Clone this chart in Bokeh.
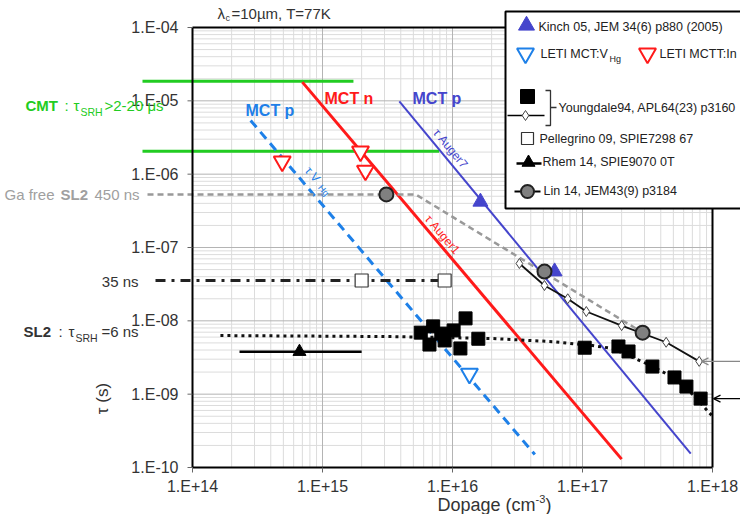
from bokeh.plotting import figure
from bokeh.models import Label, Arrow, OpenHead
from bokeh.core.properties import value
from bokeh.embed import file_html
from bokeh.resources import INLINE
import math

# ---------------- data ----------------
x_ticks = [1e14, 1e15, 1e16, 1e17, 1e18]
y_ticks = [1e-10, 1e-9, 1e-8, 1e-7, 1e-6, 1e-5, 1e-4]

mct_n_dop = [7.0e14, 2.0e17]
mct_n_tau = [1.8e-5, 1.3e-10]
mct_p_auger7_dop = [3.9e15, 6.8e17]
mct_p_auger7_tau = [9.8e-6, 1.55e-10]
mct_p_vhg_dop = [2.8e14, 4.3e16]
mct_p_vhg_tau = [5.4e-6, 1.5e-10]

cmt_srh_tau = [1.85e-5, 2.05e-6]
cmt_srh_dop_end = [1.73e15, 7.9e15]

ga_free_dop = [1.0e14, 5.2e15, 2.9e17]
ga_free_tau = [5.3e-7, 5.3e-7, 6.9e-9]

pellegrino_dop = [2.0e15, 8.7e15]
pellegrino_tau = [3.55e-8, 3.55e-8]
pellegrino_line_end = 9.2e15

rhem_dop = [6.65e14]
rhem_tau = [3.8e-9]
rhem_line_dop = [2.3e14, 2.0e15]

sl2_model_dop = [1.64e14, 3.45e15, 2.03e16, 5.9e16, 1.19e17, 1.7e17, 2.4e17,
                 3.45e17, 5.1e17, 7.0e17, 1.0e18]
sl2_model_tau = [6.3e-9, 6.1e-9, 5.74e-9, 5.2e-9, 4.6e-9, 4.2e-9, 3.2e-9,
                 2.4e-9, 1.65e-9, 1.0e-9, 5.0e-10]

youngdale_sq_dop = [5.7e15, 7.1e15, 6.65e15, 8.2e15, 8.7e15, 1.02e16, 1.26e16,
                    1.15e16, 1.58e16, 1.04e17, 1.89e17, 2.26e17, 3.45e17,
                    5.1e17, 6.3e17, 8.1e17]
youngdale_sq_tau = [6.9e-9, 8.4e-9, 4.75e-9, 6.7e-9, 5.4e-9, 7.4e-9, 1.08e-8,
                    4.2e-9, 5.7e-9, 4.3e-9, 4.47e-9, 3.82e-9, 2.38e-9,
                    1.69e-9, 1.27e-9, 8.7e-10]
youngdale_dia_dop = [3.27e16, 5.1e16, 7.7e16, 1.07e17, 2.0e17, 4.4e17, 7.9e17]
youngdale_dia_tau = [6.05e-8, 3.03e-8, 2.0e-8, 1.34e-8, 8.6e-9, 5.1e-9, 2.8e-9]

kinch_dop = [1.64e16, 6.1e16]
kinch_tau = [4.2e-7, 4.7e-8]
leti_vhg_dop = [1.35e16]
leti_vhg_tau = [1.9e-9]
leti_in_dop = [4.9e14, 1.96e15, 2.14e15]
leti_in_tau = [1.49e-6, 2.04e-6, 1.12e-6]
lin_dop = [3.1e15, 5.1e16, 2.9e17]
lin_tau = [5.3e-7, 4.7e-8, 6.9e-9]

# ---------------- styling ----------------
FONT = "Liberation Sans"
GREEN = "#22cc22"
RED = "#ff1a1a"
VIOLET = "#4545cc"
DODGER = "#1e80e8"
GRAY = "#999999"
TXT = "#333333"

SHIFT_X = 8   # the whole drawing is moved 8px left so it fits the window


def dx(px):
    """reference-image pixel x -> data x"""
    return 10 ** (14 + (px - 200) / 130.0)


def dy(py):
    """reference-image pixel y -> data y (drawn 2px higher on the canvas)"""
    return 10 ** (-4 - (py - 29) / (440 / 6.0))


def tick_label(v):
    e = round(math.log10(v))
    return "1.E%+03d" % e


W, H = 740, 514
p = figure(width=W, height=H, x_axis_type="log", y_axis_type="log",
           x_range=(dx(SHIFT_X), dx(W + SHIFT_X)), y_range=(dy(H + 2), dy(2)),
           x_axis_location=None, y_axis_location=None,
           min_border=0, output_backend="svg", toolbar_location=None)
p.title.visible = False
p.outline_line_color = None
p.xgrid.grid_line_color = None
p.ygrid.grid_line_color = None
p.background_fill_color = "white"
p.border_fill_color = "white"

X0, X1 = x_ticks[0], x_ticks[-1]
Y0, Y1 = y_ticks[0], y_ticks[-1]

# ---------------- grid (from the tick arrays) ----------------
minor_x = [k * 10.0 ** e for e in range(14, 18) for k in range(2, 10)]
minor_y = [k * 10.0 ** e for e in range(-10, -4) for k in range(2, 10)]
p.segment(x0=minor_x, x1=minor_x, y0=[Y0] * len(minor_x), y1=[Y1] * len(minor_x),
          line_color="#dcdcdc", line_width=1)
p.segment(x0=[X0] * len(minor_y), x1=[X1] * len(minor_y), y0=minor_y, y1=minor_y,
          line_color="#dcdcdc", line_width=1)
mx = x_ticks[1:-1]
my = y_ticks[1:-1]
p.segment(x0=mx, x1=mx, y0=[Y0] * len(mx), y1=[Y1] * len(mx),
          line_color="#b4b4b4", line_width=1)
p.segment(x0=[X0] * len(my), x1=[X1] * len(my), y0=my, y1=my,
          line_color="#b4b4b4", line_width=1)

# legend box (white, covers the grid)
p.quad(left=[dx(513)], right=[dx(820)], top=[dy(13)], bottom=[dy(210)],
       fill_color="white", line_color="black", line_width=2)

# ---------------- data glyphs ----------------
for tau, xend in zip(cmt_srh_tau, cmt_srh_dop_end):
    p.line([dx(150), xend], [tau, tau], line_color=GREEN, line_width=3)

p.line(mct_p_vhg_dop, mct_p_vhg_tau, line_color=DODGER, line_width=3, line_dash="9 6")
p.line(mct_n_dop, mct_n_tau, line_color=RED, line_width=3)
p.line(mct_p_auger7_dop, mct_p_auger7_tau, line_color=VIOLET, line_width=2)

p.line([dx(155)] + ga_free_dop, [ga_free_tau[0]] + ga_free_tau, line_color=GRAY,
       line_width=2.5, line_dash="6 4")

p.line([dx(163), pellegrino_line_end], [pellegrino_tau[0]] * 2, line_color="#222222",
       line_width=3, line_dash="10 6 3 6")

p.line(sl2_model_dop, sl2_model_tau, line_color="#111111", line_width=3, line_dash="3 4")
p.line(rhem_line_dop, [rhem_tau[0]] * 2, line_color="black", line_width=2.5)

p.line(youngdale_dia_dop, youngdale_dia_tau, line_color="#111111", line_width=1.8)
p.scatter(youngdale_dia_dop, youngdale_dia_tau, marker="diamond", size=10,
          fill_color="white", line_color="#444444", line_width=1)

p.scatter(pellegrino_dop, pellegrino_tau, marker="square", size=13,
          fill_color="white", line_color="#333333", line_width=1.2)
p.scatter(youngdale_sq_dop, youngdale_sq_tau, marker="square", size=13,
          fill_color="black", line_color="black")
p.scatter(rhem_dop, rhem_tau, marker="triangle", size=13,
          fill_color="black", line_color="black")
p.scatter(leti_in_dop, leti_in_tau, marker="inverted_triangle", size=17,
          fill_color="white", line_color=RED, line_width=2)
p.scatter(leti_vhg_dop, leti_vhg_tau, marker="inverted_triangle", size=17,
          fill_color="white", line_color=DODGER, line_width=2)
p.scatter(kinch_dop, kinch_tau, marker="triangle", size=15,
          fill_color=VIOLET, line_color=VIOLET)
p.scatter(lin_dop, lin_tau, marker="circle", size=14,
          fill_color="#808080", line_color="#222222", line_width=2)

# arrows on the right
p.add_layout(Arrow(x_start=dx(752), y_start=youngdale_dia_tau[-1], x_end=dx(709),
                   y_end=youngdale_dia_tau[-1], line_color="#888888", line_width=1.2,
                   end=OpenHead(size=7, line_color="#888888", line_width=1.2)))
p.add_layout(Arrow(x_start=dx(756), y_start=youngdale_sq_tau[-1], x_end=dx(721),
                   y_end=youngdale_sq_tau[-1], line_color="black", line_width=1.2,
                   end=OpenHead(size=7, line_color="black", line_width=1.2)))

# ---------------- frame and axes (ticks from the arrays) ----------------
p.line([X0, X0], [Y0, Y1], line_color="black", line_width=2)          # left
p.line([X0, X1], [Y0, Y0], line_color="black", line_width=2)          # bottom
p.line([X0, dx(513)], [Y1, Y1], line_color="black", line_width=2)     # top
p.line([X1, X1], [Y0, dy(210)], line_color="black", line_width=2)     # right

p.segment(x0=x_ticks, x1=x_ticks, y0=[Y0] * len(x_ticks), y1=[dy(474)] * len(x_ticks),
          line_color="#666666", line_width=1)
p.segment(x0=[dx(195)] * len(y_ticks), x1=[X0] * len(y_ticks), y0=y_ticks, y1=y_ticks,
          line_color="#666666", line_width=1)
p.text(x=x_ticks, y=[dy(488)] * len(x_ticks), text=[tick_label(v) for v in x_ticks],
       text_font=value(FONT), text_font_size=value("16px"), text_color=TXT,
       text_align=value("center"), text_baseline=value("middle"))
p.text(x=[dx(186)] * len(y_ticks), y=y_ticks, text=[tick_label(v) for v in y_ticks],
       text_font=value(FONT), text_font_size=value("16px"), text_color=TXT,
       text_align=value("right"), text_baseline=value("middle"))


def lab(text, px, py, size, color, bold=False, align="left", angle=0.0, font=FONT):
    p.add_layout(Label(x=dx(px), y=dy(py), text=text, text_font=font,
                       text_font_size=f"{size}px", text_color=color,
                       text_font_style="bold" if bold else "normal",
                       text_align=align, text_baseline="middle", angle=angle))


# ---------------- texts ----------------
lab("λ", 225, 15, 15, TXT)
lab("c", 233, 19, 9, TXT)
lab("=10µm, T=77K", 239, 15, 15, TXT)

lab("CMT", 33, 107, 15, GREEN, bold=True)
lab(":", 72, 107, 15, GREEN)
lab("τ", 81, 107, 15, GREEN)
lab("SRH", 88, 113, 10.5, GREEN)
lab(">2-20 μs", 112, 107, 15, GREEN)

lab("Ga free ", 12, 196, 15, "#a0a0a0")
lab("SL2", 68, 196, 15, "#a0a0a0", bold=True)
lab("450 ns", 102, 196, 15, "#a0a0a0")

lab("35 ns", 146, 283, 15, TXT, align="right")

lab("SL2", 31, 333, 15, TXT, bold=True)
lab(":", 66, 333, 15, TXT)
lab("τ", 76, 333, 15, TXT)
lab("SRH", 83, 339, 10.5, TXT)
lab("=6 ns", 109, 333, 15, TXT)

lab("MCT n", 332, 100, 16, RED, bold=True)
lab("MCT p", 420, 100, 16, VIOLET, bold=True)
lab("MCT p", 253, 112, 16, DODGER, bold=True)

lab("τ Auger7", 458, 150, 12, VIOLET, align="center", angle=-0.88)
lab("τ Auger1", 450, 236, 12, RED, align="center", angle=-0.87)
lab("τ V", 320, 176, 12, DODGER, align="center", angle=-0.87)
lab("Hg", 331, 192, 9, DODGER, align="center", angle=-0.87)

lab("τ (s)", 110, 400, 17, TXT, align="center", angle=1.5708)
lab("Dopage (cm", 543, 506, 18, TXT, align="right")
lab("-3", 543, 500, 11, TXT)
lab(")", 553, 506, 18, TXT)

# ---------------- legend ----------------
LFS = 12.5
LC = "#222222"
p.scatter([dx(534)], [dy(27)], marker="triangle", size=16,
          fill_color=VIOLET, line_color=VIOLET)
lab("Kinch 05, JEM 34(6) p880 (2005)", 546, 28, LFS, LC)

p.scatter([dx(533)], [dy(55)], marker="inverted_triangle", size=17,
          fill_color="white", line_color=DODGER, line_width=2)
lab("LETI MCT:V", 548, 55, LFS, LC)
lab("Hg", 617, 60, 9, LC)
p.scatter([dx(655)], [dy(55)], marker="inverted_triangle", size=17,
          fill_color="white", line_color=RED, line_width=2)
lab("LETI MCTT:In", 667, 55, LFS, LC)

p.scatter([dx(535)], [dy(98)], marker="square", size=14,
          fill_color="black", line_color="black")
p.line([dx(515), dx(552)], [dy(117), dy(117)], line_color="black", line_width=1.5)
p.scatter([dx(533)], [dy(117)], marker="diamond", size=10,
          fill_color="white", line_color="#444444", line_width=1)
p.multi_line([[dx(553), dx(558), dx(558), dx(553)], [dx(558), dx(564)]],
             [[dy(92), dy(92), dy(127), dy(127)], [dy(109), dy(109)]],
             line_color="#333333", line_width=1.3)
lab("Youngdale94, APL64(23) p3160", 566, 109, LFS, LC)

p.scatter([dx(535)], [dy(140)], marker="square", size=12,
          fill_color="white", line_color="#333333", line_width=1.2)
lab("Pellegrino 09, SPIE7298 67", 547, 140, LFS, LC)

p.line([dx(524), dx(549)], [dy(165), dy(165)], line_color="black", line_width=2.5)
p.scatter([dx(536)], [dy(164)], marker="triangle", size=13,
          fill_color="black", line_color="black")
lab("Rhem 14, SPIE9070 0T", 550, 163, LFS, LC)

p.line([dx(522), dx(548)], [dy(193), dy(193)], line_color="black", line_width=2)
p.scatter([dx(535)], [dy(193)], marker="circle", size=13,
          fill_color="#808080", line_color="#222222", line_width=2)
lab("Lin 14, JEM43(9) p3184", 551, 192, LFS, LC)

open("out.html", "w").write(file_html(p, INLINE))
